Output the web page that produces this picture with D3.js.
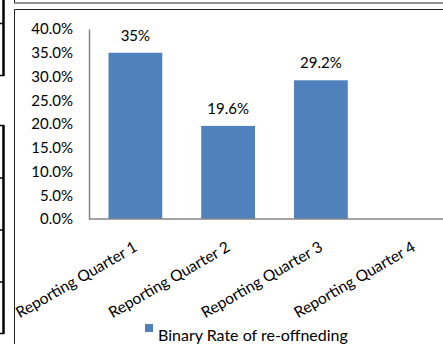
<!DOCTYPE html>
<html>
<head>
<meta charset="utf-8">
<script src="https://cdn.jsdelivr.net/npm/d3@7"></script>
<style>
  body { margin: 0; background: #fff; }
  svg { display: block; font-family: Lato, "Open Sans", sans-serif; }
</style>
</head>
<body>
<svg id="chart" width="443" height="344"></svg>
<script>
// Quarterly binary re-offending rates (percent)
const categories = ["Reporting Quarter 1", "Reporting Quarter 2", "Reporting Quarter 3", "Reporting Quarter 4"];
const rates = [35, 19.6, 29.2, null];
const rateLabels = ["35%", "19.6%", "29.2%", ""];
const yTicks = [0, 5, 10, 15, 20, 25, 30, 35, 40];
const seriesName = "Binary Rate of re-offneding";

const svg = d3.select("#chart");
const barColor = "#4f81bd";
const axisColor = "#868686";

// surrounding document frame (table edges and box borders)
const frame = svg.append("g").attr("fill", "none");
frame.append("path").attr("d", "M3.5,0V76").attr("stroke", "#000").attr("stroke-width", 2.5);
frame.append("path").attr("d", "M0,23.5H4M0,75.5H4").attr("stroke", "#000").attr("stroke-width", 1.5);
frame.append("path").attr("d", "M3.5,125V334").attr("stroke", "#000").attr("stroke-width", 2.5);
frame.append("path").attr("d", "M0,125.5H4M0,178H4M0,230H4M0,282H4M0,333.5H4").attr("stroke", "#000").attr("stroke-width", 1.5);
frame.append("path").attr("d", "M14.5,0V3H443").attr("stroke", "#222").attr("stroke-width", 1);
frame.append("path").attr("d", "M443,9.5H14.5V344").attr("stroke", "#222").attr("stroke-width", 1);

const x = d3.scaleBand().domain(categories).range([89, 460]).paddingInner(0.42).paddingOuter(0.21);
const y = d3.scaleLinear().domain([0, 40]).range([219, 29]);

// y axis
const yAxis = svg.append("g").attr("transform", "translate(89,0)")
  .call(d3.axisLeft(y).tickValues(yTicks).tickSize(0).tickPadding(16).tickFormat(d => d.toFixed(1) + "%"));
yAxis.select(".domain").attr("stroke", axisColor).attr("stroke-width", 1.5);
yAxis.selectAll("text").attr("font-size", 15).attr("fill", "#000").attr("font-family", "Lato");

// bars
svg.append("g").selectAll("rect")
  .data(categories.map((c, i) => ({ c, v: rates[i] })).filter(d => d.v != null))
  .join("rect")
  .attr("x", d => x(d.c))
  .attr("width", x.bandwidth())
  .attr("y", d => y(d.v))
  .attr("height", d => y(0) - y(d.v))
  .attr("fill", barColor);

// value labels
svg.append("g").selectAll("text")
  .data(categories.map((c, i) => ({ c, v: rates[i], t: rateLabels[i] })).filter(d => d.v != null))
  .join("text")
  .attr("x", d => x(d.c) + x.bandwidth() / 2)
  .attr("y", d => y(d.v) - 12)
  .attr("text-anchor", "middle")
  .attr("font-size", 15)
  .attr("fill", "#000")
  .text(d => d.t);

// x axis line
svg.append("line")
  .attr("x1", 89).attr("x2", 460)
  .attr("y1", y(0)).attr("y2", y(0))
  .attr("stroke", axisColor).attr("stroke-width", 1.5);

// rotated category labels
svg.append("g").selectAll("text")
  .data(categories)
  .join("text")
  .attr("transform", d => `translate(${x(d) + x.bandwidth() / 2 + 3},${y(0) + 31}) rotate(-30)`)
  .attr("text-anchor", "end")
  .attr("font-size", 15.5)
  .attr("fill", "#000")
  .text(d => d);

// legend
const legend = svg.append("g").attr("transform", "translate(145,324)");
legend.append("rect").attr("width", 8).attr("height", 8).attr("fill", barColor);
legend.append("text").attr("x", 13).attr("y", 17).attr("font-size", 16).attr("fill", "#000").text(seriesName);
</script>
</body>
</html>
